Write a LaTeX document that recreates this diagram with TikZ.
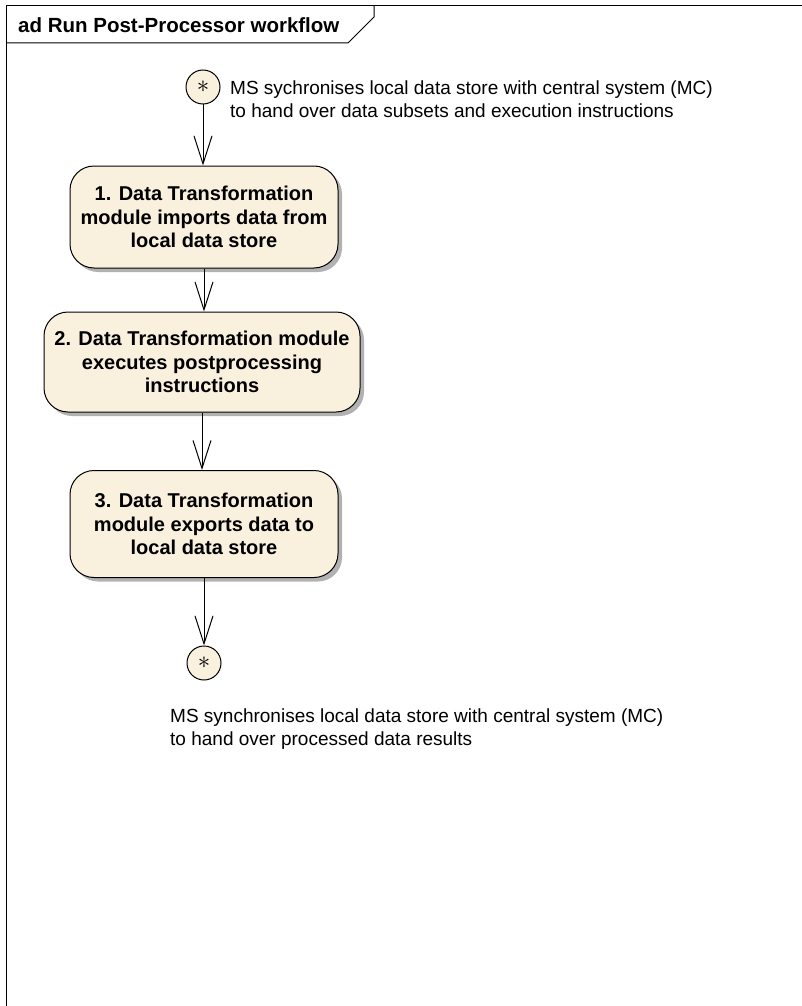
\documentclass[tikz,border=0pt]{standalone}
\usepackage{fontspec}
\setmainfont{Liberation Sans}
\usetikzlibrary{arrows.meta, shadows}
\definecolor{actfill}{RGB}{250,240,222}

\tikzset{
    action/.style={draw, fill=actfill, rounded corners=24pt, line width=1pt,
        font=\bfseries\fontsize{20}{23.5}\selectfont, align=center, inner sep=0pt,
        drop shadow={shadow xshift=4pt, shadow yshift=-4pt, fill=black!30, opacity=1}},
    endpoint/.style={draw, circle, fill=actfill, line width=1pt, minimum size=34pt, inner sep=0pt},
    note/.style={font=\fontsize{19}{22.5}\selectfont, align=left, anchor=west, inner sep=0pt},
    flow/.style={line width=1pt, -{Straight Barb[length=28pt, width=18pt, line width=1pt]}}
}

\begin{document}
\begin{tikzpicture}[x=1pt, y=-1pt]
    \useasboundingbox (0,0) rectangle (802,1006);
    % frame and title tab
    \draw[line width=1pt] (802,6) -- (6,6) -- (6,1006);
    \draw[line width=1pt] (6,43) -- (348,43) -- (374,17) -- (374,6);
    \node[anchor=west, inner sep=0pt, font=\bfseries\fontsize{20.5}{22}\selectfont] (title) at (18,25) {ad Run Post-Processor workflow};

    % start and end
    \node[endpoint] (start) at (203,87) {\fontsize{28}{28}\selectfont$\ast$};
    \node[endpoint] (stop) at (204,663) {\fontsize{28}{28}\selectfont$\ast$};

    % actions
    \node[action, minimum width=268pt, minimum height=102pt] (import) at (204,217)
        {1. Data Transformation\\module imports data from\\local data store};
    \node[action, minimum width=316pt, minimum height=100pt] (exec) at (202,362)
        {2. Data Transformation module\\executes postprocessing\\instructions};
    \node[action, minimum width=268pt, minimum height=107pt] (export) at (204,524)
        {3. Data Transformation\\module exports data to\\local data store};

    % notes
    \node[note] (startnote) at (230,99) {MS sychronises local data store with central system (MC)\\to hand over data subsets and execution instructions};
    \node[note] (stopnote) at (170,729) {MS synchronises local data store with central system (MC)\\to hand over processed data results};

    % flows
    \draw[flow] (start) -- (start |- import.north);
    \draw[flow] (import) -- (import |- exec.north);
    \draw[flow] (exec) -- (exec |- export.north);
    \draw[flow] (export) -- (export |- stop.north);
\end{tikzpicture}
\end{document}
